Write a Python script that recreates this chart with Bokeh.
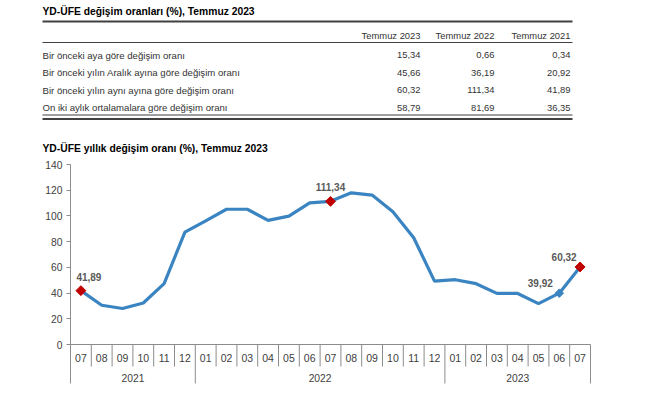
import math
from bokeh.plotting import figure
from bokeh.models import Range1d, FixedTicker, ColumnDataSource
from bokeh.embed import file_html
from bokeh.resources import INLINE
from bokeh.core.properties import value

# ---------------- data ----------------
table_title = "YD-ÜFE değişim oranları (%), Temmuz 2023"
col_headers = ["Temmuz 2023", "Temmuz 2022", "Temmuz 2021"]
row_labels = [
    "Bir önceki aya göre değişim oranı",
    "Bir önceki yılın Aralık ayına göre değişim oranı",
    "Bir önceki yılın aynı ayına göre değişim oranı",
    "On iki aylık ortalamalara göre değişim oranı",
]
col_2023 = ["15,34", "45,66", "60,32", "58,79"]
col_2022 = ["0,66", "36,19", "111,34", "81,69"]
col_2021 = ["0,34", "20,92", "41,89", "36,35"]

chart_title = "YD-ÜFE yıllık değişim oranı (%), Temmuz 2023"
months = ["07", "08", "09", "10", "11", "12",
          "01", "02", "03", "04", "05", "06", "07", "08", "09", "10", "11", "12",
          "01", "02", "03", "04", "05", "06", "07"]
years = ["2021", "2022", "2023"]
year_counts = [6, 12, 7]
annual_change = [41.89, 30.5, 28.0, 32.3, 47.3, 87.4,
                 96.2, 105.2, 105.2, 96.5, 99.8, 110.2, 111.34, 118.0, 116.2, 103.2, 83.0, 49.3,
                 50.4, 47.3, 39.8, 39.7, 31.8, 39.92, 60.32]
red_points = [0, 12, 24]
blue_points = [23]
y_ticks = [0, 20, 40, 60, 80, 100, 120, 140]

FONT = value("Liberation Sans")
TXT = "#404040"
GRID = "#8c8c8c"
LINE = "#3a85c1"
RED = "#c00000"

# ---------------- geometry (page pixels) ----------------
W, H = 650, 392
BORDER_L = 40                     # room for the y-axis panel
AX_LEFT, AX_RIGHT = 70, 590       # category axis extent
TOP_140, ZERO_Y = 164, 344        # y of 140 and of 0
n = len(months)
ppx = (AX_RIGHT - AX_LEFT) / n
ppy = (ZERO_Y - TOP_140) / 140.0

x_start = -(AX_LEFT - BORDER_L) / ppx
x_end = n + (W - AX_RIGHT) / ppx
y_end = 140 + TOP_140 / ppy
y_start = -(H - ZERO_Y) / ppy

def dx(px):
    return (px - AX_LEFT) / ppx

def dy(py):
    return (ZERO_Y - py) / ppy

p = figure(width=W, height=H, x_range=Range1d(x_start, x_end), y_range=Range1d(y_start, y_end),
           x_axis_type=None, toolbar_location=None, output_backend="svg",
           min_border_left=BORDER_L, min_border_right=0, min_border_top=0, min_border_bottom=0)
p.title = None
p.outline_line_color = None
p.grid.visible = False

# ---------------- y axis (fixed at the category axis' left edge) ----------------
yax = p.yaxis[0]
yax.fixed_location = 0
yax.bounds = (dy(383), 140)
yax.ticker = FixedTicker(ticks=y_ticks)
yax.major_tick_out = 4
yax.major_tick_in = 0
yax.minor_tick_line_color = None
yax.axis_line_color = GRID
yax.major_tick_line_color = GRID
yax.major_label_text_font = "Liberation Sans"
yax.major_label_text_font_size = "10.3px"
yax.major_label_text_color = TXT
yax.major_label_standoff = 4

xs = [i + 0.5 for i in range(n)]

# ---------------- category axis (two levels) ----------------
p.segment(x0=[0], y0=[0], x1=[n], y1=[0], line_color=GRID, line_width=1)
bounds = []
acc = 0
for c in year_counts:
    acc += c
    bounds.append(acc)
month_bounds = [k for k in range(1, n) if k not in bounds]
p.segment(x0=month_bounds, y0=[0] * len(month_bounds), x1=month_bounds,
          y1=[-22 / ppy] * len(month_bounds), line_color=GRID, line_width=1)
p.segment(x0=bounds, y0=[0] * len(bounds), x1=bounds,
          y1=[-39 / ppy] * len(bounds), line_color=GRID, line_width=1)
p.text(x=xs, y=[-13 / ppy] * n, text=months, text_font=FONT, text_font_size="10.5px",
       text_color=TXT, text_baseline="middle", text_align="center")
starts = [0] + bounds[:-1]
year_x = [(s + e) / 2 for s, e in zip(starts, bounds)]
p.text(x=year_x, y=[-33 / ppy] * len(years), text=years, text_font=FONT,
       text_font_size="10.3px", text_color=TXT, text_baseline="middle", text_align="center")

# ---------------- series ----------------
p.line(x=xs, y=annual_change, line_color=LINE, line_width=3.2)

src_red = ColumnDataSource(dict(x=[xs[i] for i in red_points], y=[annual_change[i] for i in red_points]))
p.scatter(x="x", y="y", source=src_red, marker="square", size=7, angle=math.pi / 4,
          fill_color=RED, line_color=RED)
src_blue = ColumnDataSource(dict(x=[xs[i] for i in blue_points], y=[annual_change[i] for i in blue_points]))
p.scatter(x="x", y="y", source=src_blue, marker="square", size=6, angle=math.pi / 4,
          fill_color=LINE, line_color=LINE)

lab_idx = red_points + blue_points
src_lab = ColumnDataSource(dict(
    x=[xs[i] for i in lab_idx], y=[annual_change[i] for i in lab_idx],
    t=[f"{annual_change[i]:.2f}".replace(".", ",") for i in lab_idx],
    dx=[8, 0, -16, -19], dy=[-14, -14, -10, -10]))
p.text(x="x", y="y", text="t", source=src_lab, x_offset="dx", y_offset="dy",
       text_font=FONT, text_font_size="10px", text_font_style="bold", text_color="#595959",
       text_baseline="middle", text_align="center")

# ---------------- titles & table ----------------
def texts(xs_px, ys_px, items, size, align, style="normal", color="#333333"):
    p.text(x=[dx(v) for v in xs_px], y=[dy(v) for v in ys_px], text=items, text_font=FONT,
           text_font_size=size, text_font_style=style, text_color=color,
           text_align=align, text_baseline="middle")

texts([42, 42], [11, 148], [table_title, chart_title], "10.3px", "left", "bold", "#000000")

TL, TR = 42, 572
rules_y = [21, 42, 114.5, 118.5]
rules_w = [2, 1, 1, 2]
for py, lw in zip(rules_y, rules_w):
    p.segment(x0=[dx(TL)], y0=[dy(py)], x1=[dx(TR)], y1=[dy(py)],
              line_color="#404040", line_width=lw)

col_right = [420, 494, 570]
texts(col_right, [35] * 3, col_headers, "9.4px", "right")
row_y = [54.5 + i * 17.6 for i in range(len(row_labels))]
texts([TL] * len(row_labels), row_y, row_labels, "9.6px", "left")
for cx, col in zip(col_right, [col_2023, col_2022, col_2021]):
    texts([cx] * len(col), row_y, col, "9.4px", "right")

open("out.html", "w").write(file_html(p, INLINE))
